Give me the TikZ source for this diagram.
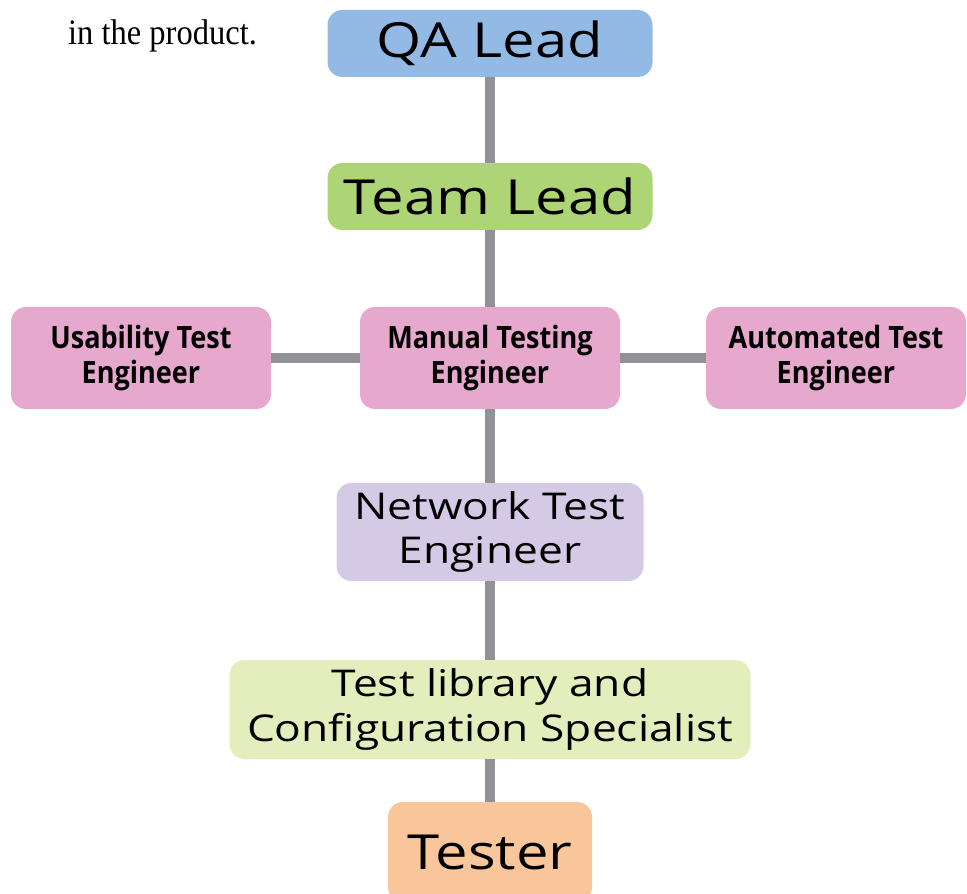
\documentclass[tikz,border=0pt]{standalone}
\usepackage{fontspec}
\setmainfont{Liberation Serif}
\newfontfamily\boxfont{Open Sans}[FakeStretch=1.2]
\newfontfamily\pinkfont{Open Sans}[FakeStretch=0.88]
\definecolor{qablue}{HTML}{93BAE4}
\definecolor{leadgreen}{HTML}{AED575}
\definecolor{engpink}{HTML}{E6A8CC}
\definecolor{netlilac}{HTML}{D4CAE5}
\definecolor{libgreen}{HTML}{E4EDBC}
\definecolor{testorange}{HTML}{F9C69C}
\definecolor{linegray}{HTML}{919196}
\begin{document}
\begin{tikzpicture}[main node/.style={rectangle, rounded corners=0.3cm, inner sep=0pt, align=center},
        big node/.style={main node, font=\boxfont\fontsize{27.5}{32}\selectfont},
        mid node/.style={main node, font=\boxfont\fontsize{21}{25.5}\selectfont},
        pink node/.style={main node, fill=engpink, minimum width=5.2cm, minimum height=2.04cm, font=\pinkfont\bfseries\fontsize{17.5}{20}\selectfont},
        link/.style={draw=linegray, line width=5.7pt}]
        \useasboundingbox (0,0) rectangle (19.34,-17.88);

          \node[font=\fontsize{18.5}{22}\selectfont, anchor=base west, yscale=1.1] (0) at (1.24,-0.89) {in the product.};
          \node[big node, fill=qablue, minimum width=6.5cm, minimum height=1.34cm] (1) at (9.8,-0.87) {QA Lead};
          \node[big node, fill=leadgreen, minimum width=6.5cm, minimum height=1.34cm] (2) at (9.8,-3.93) {Team Lead};
          \node[pink node] (3) at (9.8,-7.16) {Manual Testing\\Engineer};
          \node[pink node] (4) at (2.82,-7.16) {Usability Test\\Engineer};
          \node[pink node] (5) at (16.72,-7.16) {Automated Test\\Engineer};
          \node[mid node, fill=netlilac, minimum width=6.14cm, minimum height=1.96cm] (6) at (9.8,-10.64) {Network Test\\Engineer};
          \node[mid node, fill=libgreen, minimum width=10.42cm, minimum height=1.98cm] (7) at (9.8,-14.19) {Test library and\\Configuration Specialist};
          \node[big node, fill=testorange, minimum width=4.08cm, minimum height=2cm] (8) at (9.8,-17.04) {Tester};

          \path[link]
            (1) edge (2)
            (2) edge (3)
            (3) edge (4)
                edge (5)
                edge (6)
            (6) edge (7)
            (7) edge (8);

        \end{tikzpicture}
\end{document}
